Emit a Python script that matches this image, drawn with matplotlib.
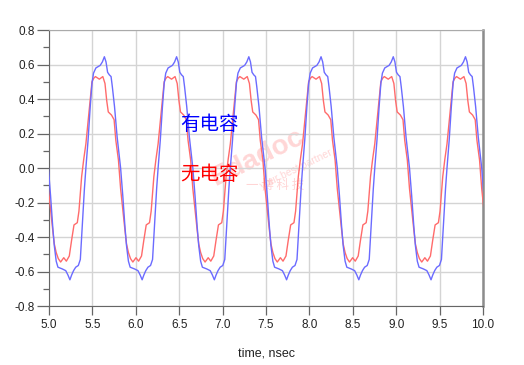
import numpy as np
import matplotlib
matplotlib.use("Agg")
import matplotlib.pyplot as plt
from matplotlib.ticker import MultipleLocator

plt.rcParams["font.family"] = ["Liberation Sans", "DejaVu Sans"]
plt.rcParams["axes.unicode_minus"] = False

# one period of each waveform
# phase in ns, measured from the blue rising zero crossing
period_ns = 0.832
first_rise_ns = 5.425

blue_phase = [0.000, 0.025, 0.050, 0.070, 0.088, 0.115, 0.165, 0.190, 0.213, 0.232,
              0.250, 0.270, 0.290, 0.305, 0.330, 0.360, 0.400, 0.425, 0.450, 0.468,
              0.490, 0.510, 0.560, 0.600, 0.625, 0.648, 0.668, 0.690, 0.715, 0.745,
              0.768, 0.790, 0.815]
blue_volt = [0.00, 0.16, 0.355, 0.49, 0.55, 0.58, 0.595, 0.615, 0.645, 0.615,
             0.555, 0.54, 0.53, 0.47, 0.355, 0.18, 0.00, -0.16, -0.34, -0.45,
             -0.54, -0.575, -0.585, -0.595, -0.62, -0.648, -0.62, -0.595, -0.575, -0.565,
             -0.53, -0.34, -0.12]

red_phase = [-0.049, -0.025, 0.000, 0.025, 0.050, 0.070, 0.090, 0.110, 0.155, 0.195,
             0.220, 0.240, 0.258, 0.295, 0.325, 0.345, 0.375, 0.400, 0.425, 0.450,
             0.468, 0.490, 0.514, 0.541, 0.577, 0.607, 0.641, 0.667, 0.695, 0.733,
             0.752]
red_volt = [-0.05, 0.05, 0.14, 0.27, 0.40, 0.50, 0.52, 0.53, 0.515, 0.53,
            0.49, 0.39, 0.325, 0.307, 0.28, 0.16, 0.046, -0.12, -0.24, -0.36,
            -0.44, -0.49, -0.525, -0.545, -0.52, -0.54, -0.51, -0.42, -0.33, -0.317,
            -0.25]

x_ticks = [5.0, 5.5, 6.0, 6.5, 7.0, 7.5, 8.0, 8.5, 9.0, 9.5, 10.0]
y_ticks = [-0.8, -0.6, -0.4, -0.2, 0.0, 0.2, 0.4, 0.6, 0.8]


def repeat_period(phase, volt, n_from=-1, n_to=6):
    t, v = [], []
    for k in range(n_from, n_to + 1):
        t.extend(first_rise_ns + k * period_ns + np.array(phase))
        v.extend(volt)
    return np.array(t), np.array(v)


t_blue, v_blue = repeat_period(blue_phase, blue_volt)
t_red, v_red = repeat_period(red_phase, red_volt)

fig = plt.figure(figsize=(5.24, 3.65), dpi=100)
ax = fig.add_axes([0.0935, 0.1616, 0.8283, 0.7562])

ax.plot(t_red, v_red, color="#ff6b6b", lw=1.0, zorder=3)
ax.plot(t_blue, v_blue, color="#6b6bff", lw=1.0, zorder=3)

ax.set_xlim(5.0, 10.0)
ax.set_ylim(-0.8, 0.8)
ax.set_xticks(x_ticks)
ax.set_xticklabels([f"{x:.1f}" for x in x_ticks])
ax.set_yticks(y_ticks)
ax.set_yticklabels([f"{y:.1f}" for y in y_ticks])
ax.yaxis.set_minor_locator(MultipleLocator(0.1))
ax.grid(True, which="major", color="#d4d4d4", lw=1.0, zorder=0)

ax.tick_params(axis="y", which="major", direction="out", length=8.5, width=0.9,
               color="#666666", labelsize=8.5, labelcolor="#222222", pad=1.5)
ax.tick_params(axis="y", which="minor", direction="out", length=4.5, width=0.9,
               color="#666666")
ax.tick_params(axis="x", which="major", direction="out", length=6.5, width=0.9,
               color="#666666", labelsize=8.5, labelcolor="#222222", pad=3)

ax.spines["left"].set_color("#666666")
ax.spines["bottom"].set_color("#666666")
ax.spines["top"].set_color("#aaaaaa")
ax.spines["right"].set_color("#8c8c8c")
ax.spines["right"].set_linewidth(1.8)

ax.set_xlabel("time, nsec", fontsize=9, color="#222222", labelpad=12)

cjk = ["Noto Sans CJK SC", "DejaVu Sans"]
ax.text(6.51, 0.25, "有电容", color="#0000ff", fontsize=14, family=cjk,
        fontweight="light", ha="left", va="center", zorder=5)
ax.text(6.51, -0.04, "无电容", color="#ff0000", fontsize=14, family=cjk,
        fontweight="light", ha="left", va="center", zorder=5)

# faint watermark
ax.text(7.4, 0.06, "Edadoc", color="#ff3030", alpha=0.2, fontsize=20,
        fontweight="bold", rotation=26, ha="center", va="center", zorder=1)
ax.text(7.85, -0.01, "your best partner", color="#ff3030", alpha=0.2, fontsize=7.5,
        rotation=26, ha="center", va="center", zorder=1)
ax.text(7.6, -0.1, "一 博 科 技", color="#ff3030", alpha=0.2, fontsize=9,
        family=cjk, rotation=0, ha="center", va="center", zorder=1)

fig.savefig("out.png", dpi=100)
